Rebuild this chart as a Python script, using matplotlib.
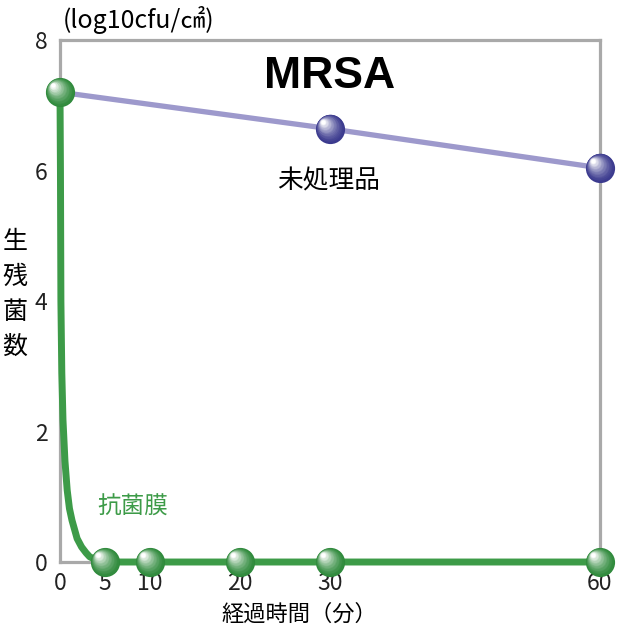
import numpy as np
import matplotlib.pyplot as plt
from matplotlib.transforms import offset_copy
from matplotlib.colors import to_rgb

plt.rcParams['font.family'] = ['Noto Sans CJK JP', 'DejaVu Sans']

# data (minutes, log10 cfu/cm2)
t_pts = [0, 5, 10, 20, 30, 60]
film_pts = [7.2, 0, 0, 0, 0, 0]
untreated_t = [0, 30, 60]
untreated = [7.2, 6.64, 6.04]
# shape of the green drop
curve_t = [0, 0.05, 0.1, 0.2, 0.33, 0.55, 0.8, 1.05, 1.33, 1.9, 2.4, 2.9, 3.3, 4.2, 5, 60]
curve_v = [7.2, 6.0, 4.0, 2.9, 2.18, 1.55, 1.1, 0.82, 0.64, 0.36, 0.23, 0.14, 0.08, 0.02, 0, 0]

green = '#3d9b48'
green_dark = '#2f8a3c'
purple_line = '#9d99cc'
purple_dark = '#3b3a8e'

fig = plt.figure(figsize=(6.4, 6.38), dpi=100)
ax = fig.add_axes([0.09375, 0.1191, 0.84375, 0.8182])
ax.set_xlim(0, 60)
ax.set_ylim(0, 8)
for s in ax.spines.values():
    s.set_color('#a9a9a9')
    s.set_linewidth(2.3)


def spheres(x, y, base, size=21):
    # fake 3D ball: stacked circles getting lighter toward upper left
    c0 = np.array(to_rgb(base))
    n = 16
    for i in range(n):
        f = i / (n - 1)
        col = c0 + (1 - c0) * f ** 1.5
        sz = size * (1 - 0.85 * f)
        off = 0.24 * size * f
        tr = offset_copy(ax.transData, fig=fig, x=-off, y=off, units='points')
        ax.plot(x, y, 'o', ms=sz, color=col, mec='none', transform=tr,
                clip_on=False, zorder=5 + i * 0.01)


ax.plot(untreated_t, untreated, color=purple_line, lw=3.8, clip_on=False, zorder=3)
ax.plot(curve_t, curve_v, color=green, lw=5, clip_on=False, zorder=4,
        solid_capstyle='round', solid_joinstyle='round')
spheres(untreated_t[1:], untreated[1:], purple_dark)
spheres(t_pts, film_pts, green_dark)

ax.set_xticks(t_pts)
ax.set_yticks([0, 2, 4, 6, 8])
ax.tick_params(length=0, labelsize=16.5, colors='#222222')
ax.tick_params(axis='y', pad=9)
ax.tick_params(axis='x', pad=7)

ax.text(0.5, 0.93, 'MRSA', transform=ax.transAxes, ha='center', va='center',
        fontsize=32, fontweight='bold', family='Liberation Sans')
ax.text(0.498, 0.73, '未処理品', transform=ax.transAxes, ha='center', va='center',
        fontsize=18.5)
ax.text(0.134, 0.105, '抗菌膜', transform=ax.transAxes, ha='center', va='center',
        fontsize=17, color=green)

fig.text(63 / 640, 1 - 20 / 638, '(log10cfu/㎠)', ha='left', va='center', fontsize=18)
fig.text(15 / 640, 1 - 294 / 638, '生\n残\n菌\n数', ha='center', va='center',
         fontsize=18, linespacing=1.45)
fig.text(299 / 640, 1 - 614 / 638, '経過時間（分）', ha='center', va='center', fontsize=16)

fig.savefig('out.png', dpi=100)
